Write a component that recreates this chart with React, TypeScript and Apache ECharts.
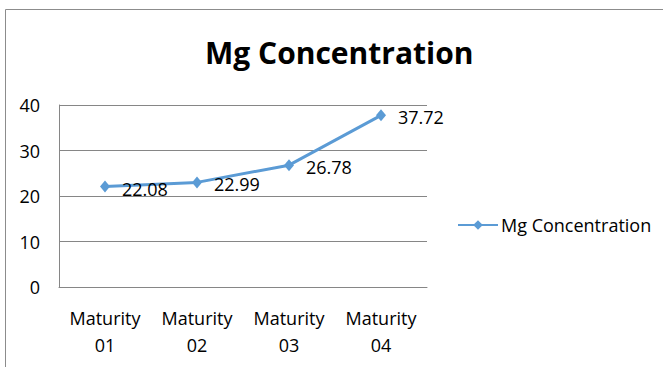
import React, { useEffect, useRef } from "react";
import * as echarts from "echarts";

const categories = ["Maturity\n01", "Maturity\n02", "Maturity\n03", "Maturity\n04"];
const mgValues = [22.08, 22.99, 26.78, 37.72];
const seriesName = "Mg Concentration";
const titleText = "Mg Concentration";
const yMin = 0;
const yMax = 40;
const yInterval = 10;

const FONT = "'Open Sans', 'Noto Sans', sans-serif";

export default function App() {
  const ref = useRef<HTMLDivElement>(null);
  useEffect(() => {
    if (!ref.current) return;
    const chart = echarts.init(ref.current, undefined, { renderer: "svg" });
    chart.setOption({
      animation: false,
      backgroundColor: "#ffffff",
      title: {
        text: titleText,
        left: 205,
        top: 36,
        padding: 0,
        textStyle: {
          fontFamily: FONT,
          fontSize: 30,
          fontWeight: "bold",
          color: "#000000",
          lineHeight: 32,
        },
      },
      legend: {
        left: 457,
        top: 216,
        padding: 0,
        itemWidth: 40,
        itemHeight: 12,
        itemGap: 10,
        data: [seriesName],
        textStyle: { fontFamily: FONT, fontSize: 18, color: "#000000", padding: [0, 0, 0, -2] },
      },
      grid: { left: 59, right: 236, top: 105, bottom: 80, containLabel: false },
      xAxis: {
        type: "category",
        data: categories,
        boundaryGap: true,
        axisLine: { show: true, lineStyle: { color: "#868686", width: 1 } },
        axisTick: { show: false },
        axisLabel: {
          fontFamily: FONT,
          fontSize: 18,
          color: "#000000",
          lineHeight: 27,
          margin: 17,
          interval: 0,
        },
      },
      yAxis: {
        type: "value",
        min: yMin,
        max: yMax,
        interval: yInterval,
        axisLine: { show: true, lineStyle: { color: "#868686", width: 1 } },
        axisTick: { show: false },
        splitLine: { show: true, lineStyle: { color: "#868686", width: 1 } },
        axisLabel: { fontFamily: FONT, fontSize: 18, color: "#000000", margin: 19 },
      },
      series: [
        {
          name: seriesName,
          type: "line",
          data: mgValues,
          symbol: "diamond",
          symbolSize: [10, 12],
          lineStyle: { color: "#5B9BD5", width: 3 },
          itemStyle: { color: "#5B9BD5" },
          label: {
            show: true,
            position: "right",
            distance: 12,
            offset: [0, 2],
            fontFamily: FONT,
            fontSize: 18,
            color: "#000000",
          },
        },
      ],
      graphic: [
        {
          type: "line",
          shape: { x1: 5.5, y1: 9.5, x2: 663, y2: 9.5 },
          style: { stroke: "#8c8c8c", lineWidth: 1 },
        },
        {
          type: "line",
          shape: { x1: 5.5, y1: 9.5, x2: 5.5, y2: 367 },
          style: { stroke: "#8c8c8c", lineWidth: 1 },
        },
      ],
    });
    return () => chart.dispose();
  }, []);
  return (
    <div
      ref={ref}
      style={{ position: "fixed", left: 0, top: 0, width: 663, height: 367 }}
    />
  );
}
